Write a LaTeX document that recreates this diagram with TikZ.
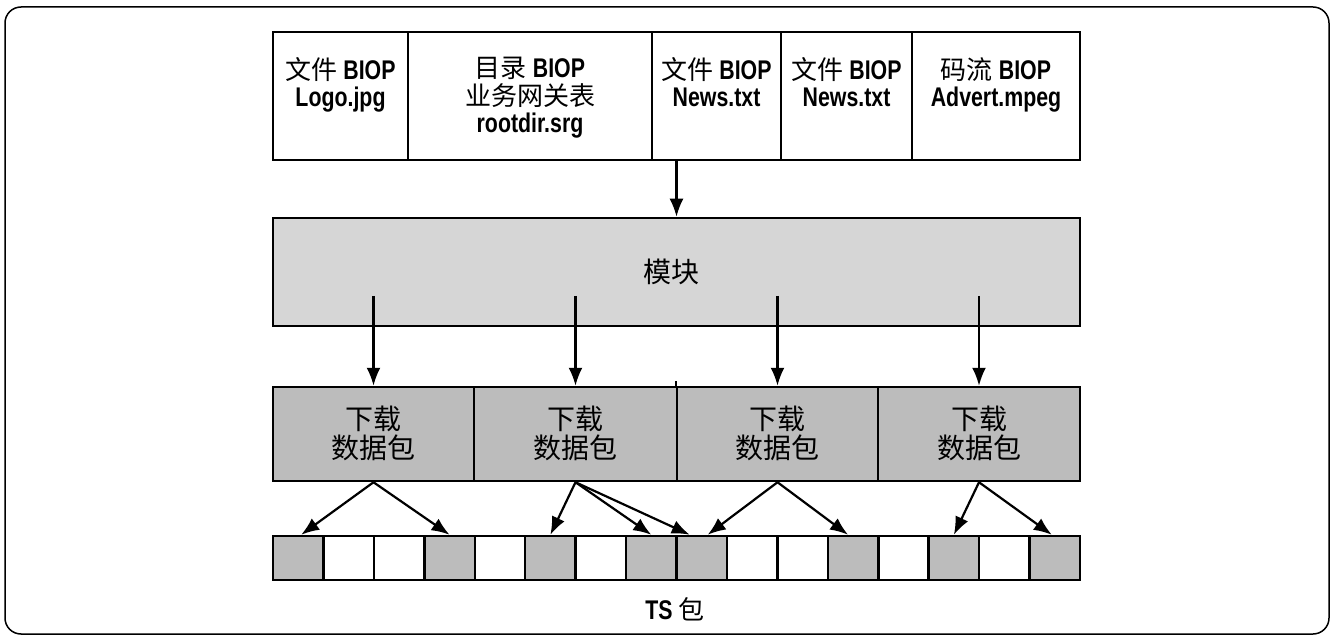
\documentclass[tikz,border=0pt]{standalone}
\usepackage{fontspec}
\setmainfont{Liberation Sans}
\newfontfamily\cjk{Noto Sans CJK SC}
\newfontfamily\lat{Liberation Sans}[FakeStretch=0.79]
\newcommand\zhtext[1]{{\cjk\mdseries\fontsize{26}{27.5}\selectfont #1}}
\usetikzlibrary{arrows.meta}
\definecolor{modgray}{RGB}{214,214,214}
\definecolor{pktgray}{RGB}{188,188,188}
\tikzset{
  box/.style={draw, line width=2.5pt, inner sep=0pt},
  topbox/.style={box, minimum height=128pt},
  toptext/.style={inner sep=0pt, align=center, font=\lat\bfseries\fontsize{27}{27.5}\selectfont},
  pkt/.style={box, fill=pktgray, minimum height=94pt},
  pkttext/.style={align=center, inner sep=0pt, font=\cjk\fontsize{28}{29}\selectfont},
  tsg/.style={box, fill=pktgray, minimum width=50.44pt, minimum height=44pt},
  tsw/.style={box, fill=white, minimum width=50.44pt, minimum height=44pt},
  arr/.style={line width=2.2pt, -{Latex[length=18pt,width=14pt]}},
}
\begin{document}
\begin{tikzpicture}[x=1pt,y=-1pt]
\useasboundingbox (0,0) rectangle (1334,639);
\draw[line width=1.5pt, rounded corners=16pt] (5,7) rectangle (1329,634);

% top row
\node[topbox, minimum width=807pt] (toprow) at (676.5,96) {};
\node[topbox, minimum width=135pt] (t1) at (340.5,96) {};
\node[topbox, minimum width=244pt] (t2) at (530,96) {};
\node[topbox, minimum width=129pt] (t3) at (716.5,96) {};
\node[topbox, minimum width=131pt] (t4) at (846.5,96) {};
\node[topbox, minimum width=168pt] (t5) at (996,96) {};
\node[toptext] (l2) at ([yshift=-2pt]t2.center) {\zhtext{目录} BIOP\\\zhtext{业务网关表}\\rootdir.srg};
\node[toptext, anchor=north] (l1) at (t1.center |- l2.north) {\zhtext{文件} BIOP\\Logo.jpg};
\node[toptext, anchor=north] (l3) at (t3.center |- l2.north) {\zhtext{文件} BIOP\\News.txt};
\node[toptext, anchor=north] (l4) at (t4.center |- l2.north) {\zhtext{文件} BIOP\\News.txt};
\node[toptext, anchor=north] (l5) at (t5.center |- l2.north) {\zhtext{码流} BIOP\\Advert.mpeg};

% module
\node[box, fill=modgray, minimum width=807pt, minimum height=108pt] (mod) at (676.5,272) {};
\node[font=\cjk\fontsize{28}{32}\selectfont] (modl) at (671,272) {模块};
\draw[arr] (toprow.south) -- (mod.north);

% download packets
\node[pkt, minimum width=201pt] (p1) at (373.5,434) {};
\node[pkt, minimum width=203pt] (p2) at (575.5,434) {};
\node[pkt, minimum width=201pt] (p3) at (777.5,434) {};
\node[pkt, minimum width=202pt] (p4) at (979,434) {};
\foreach \p in {p1,p2,p3,p4}
  \node[pkttext] at ([yshift=1pt]\p.center) {下载\\数据包};
\draw[line width=1.6pt] (p3.north west) -- ++(0,-5);
\foreach \p in {p1,p2,p3,p4}
  \draw[arr] (\p.north |- 0,296) -- (\p.north);

% TS packets
\foreach \i/\s in {0/tsg,1/tsw,2/tsw,3/tsg,4/tsw,5/tsg,6/tsw,7/tsg,8/tsg,9/tsw,10/tsw,11/tsg,12/tsw,13/tsg,14/tsw,15/tsg}
  \node[\s] (c\i) at ({273+50.4375*(\i+0.5)},558) {};

\draw[arr] (p1.south) -- ([xshift=3pt]c0.north);
\draw[arr] (p1.south) -- (c3.north);
\draw[arr] (p2.south) -- (c5.north);
\draw[arr] (p2.south) -- (c7.north);
\draw[arr] (p2.south) -- ([xshift=-12pt]c8.north);
\draw[arr] (p3.south) -- ([xshift=6pt]c8.north);
\draw[arr] (p3.south) -- ([xshift=-5pt]c11.north);
\draw[arr] (p4.south) -- (c13.north);
\draw[arr] (p4.south) -- ([xshift=-3pt]c15.north);

\node[font=\lat\bfseries\fontsize{27}{30}\selectfont] (cap) at (675,609) {TS \zhtext{包}};
\end{tikzpicture}
\end{document}
